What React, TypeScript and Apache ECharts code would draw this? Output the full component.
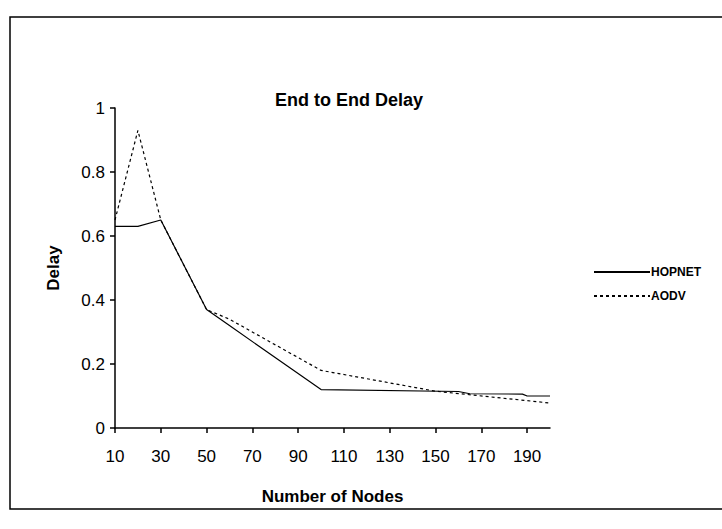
import React, { useEffect, useRef } from "react";
import * as echarts from "echarts";

const title = "End to End Delay";
const xName = "Number of Nodes";
const yName = "Delay";
const hopnetX = [10, 20, 30, 50, 60, 100, 160, 165, 188, 190, 200];
const hopnetY = [0.63, 0.63, 0.65, 0.37, 0.32, 0.12, 0.114, 0.107, 0.106, 0.1, 0.1];
const aodvX = [10, 20, 30, 50, 60, 100, 150, 200];
const aodvY = [0.65, 0.93, 0.65, 0.37, 0.34, 0.18, 0.115, 0.078];

const FONT = "'Liberation Sans Narrow', 'Liberation Sans', Arial, sans-serif";
const BOLD = "'Liberation Sans', Arial, sans-serif";

export default function App() {
  const ref = useRef<HTMLDivElement>(null);
  useEffect(() => {
    if (!ref.current) return;
    const chart = echarts.init(ref.current, undefined, { renderer: "svg" });
    chart.setOption({
      animation: false,
      backgroundColor: "#fff",
      title: {
        text: title,
        left: 344,
        top: 86,
        textAlign: "center",
        textStyle: { fontFamily: BOLD, fontSize: 18, fontWeight: "bold", color: "#000" },
      },
      legend: {
        orient: "vertical",
        left: 588,
        top: 261,
        itemWidth: 56,
        itemHeight: 10,
        itemGap: 12,
        itemStyle: { opacity: 0 },
        textStyle: { fontFamily: FONT, fontSize: 12, fontWeight: "bold", color: "#000", padding: [0, 0, 0, -4] },
        data: [{ name: "HOPNET" }, { name: "AODV" }],
      },
      grid: { left: 115, right: 172, top: 108, bottom: 101 },
      xAxis: {
        type: "value",
        min: 10,
        max: 200,
        interval: 20,
        name: xName,
        nameLocation: "middle",
        nameGap: 60,
        nameTextStyle: { fontFamily: BOLD, fontSize: 17, fontWeight: "bold", color: "#000" },
        axisLine: { lineStyle: { color: "#000", width: 1.5 } },
        axisTick: { show: true, length: 5, lineStyle: { color: "#000", width: 1.5 } },
        splitLine: { show: false },
        axisLabel: { fontFamily: FONT, fontSize: 17, color: "#000", margin: 20, showMaxLabel: false },
      },
      yAxis: {
        type: "value",
        min: 0,
        max: 1,
        interval: 0.2,
        name: yName,
        nameLocation: "middle",
        nameGap: 53,
        nameRotate: 90,
        nameTextStyle: { fontFamily: BOLD, fontSize: 17, fontWeight: "bold", color: "#000" },
        axisLine: { show: true, lineStyle: { color: "#000", width: 1.5 } },
        axisTick: { show: true, length: 5, lineStyle: { color: "#000", width: 1.5 } },
        splitLine: { show: false },
        axisLabel: { fontFamily: FONT, fontSize: 17, color: "#000", margin: 10 },
      },
      series: [
        {
          name: "HOPNET",
          type: "line",
          data: hopnetX.map((x, i) => [x, hopnetY[i]]),
          symbol: "none",
          lineStyle: { color: "#000", width: 1.2, type: "solid" },
          itemStyle: { color: "#000" },
        },
        {
          name: "AODV",
          type: "line",
          data: aodvX.map((x, i) => [x, aodvY[i]]),
          symbol: "none",
          lineStyle: { color: "#000", width: 1.2, type: [3, 3] },
          itemStyle: { color: "#000" },
        },
      ],
      graphic: [
        {
          type: "rect",
          shape: { x: 10, y: 17, width: 720, height: 492 },
          style: { fill: "none", stroke: "#000", lineWidth: 1.5 },
          silent: true,
        },
      ],
    });
    return () => chart.dispose();
  }, []);
  return <div ref={ref} style={{ position: "fixed", left: 0, top: 0, width: 722, height: 529 }} />;
}
